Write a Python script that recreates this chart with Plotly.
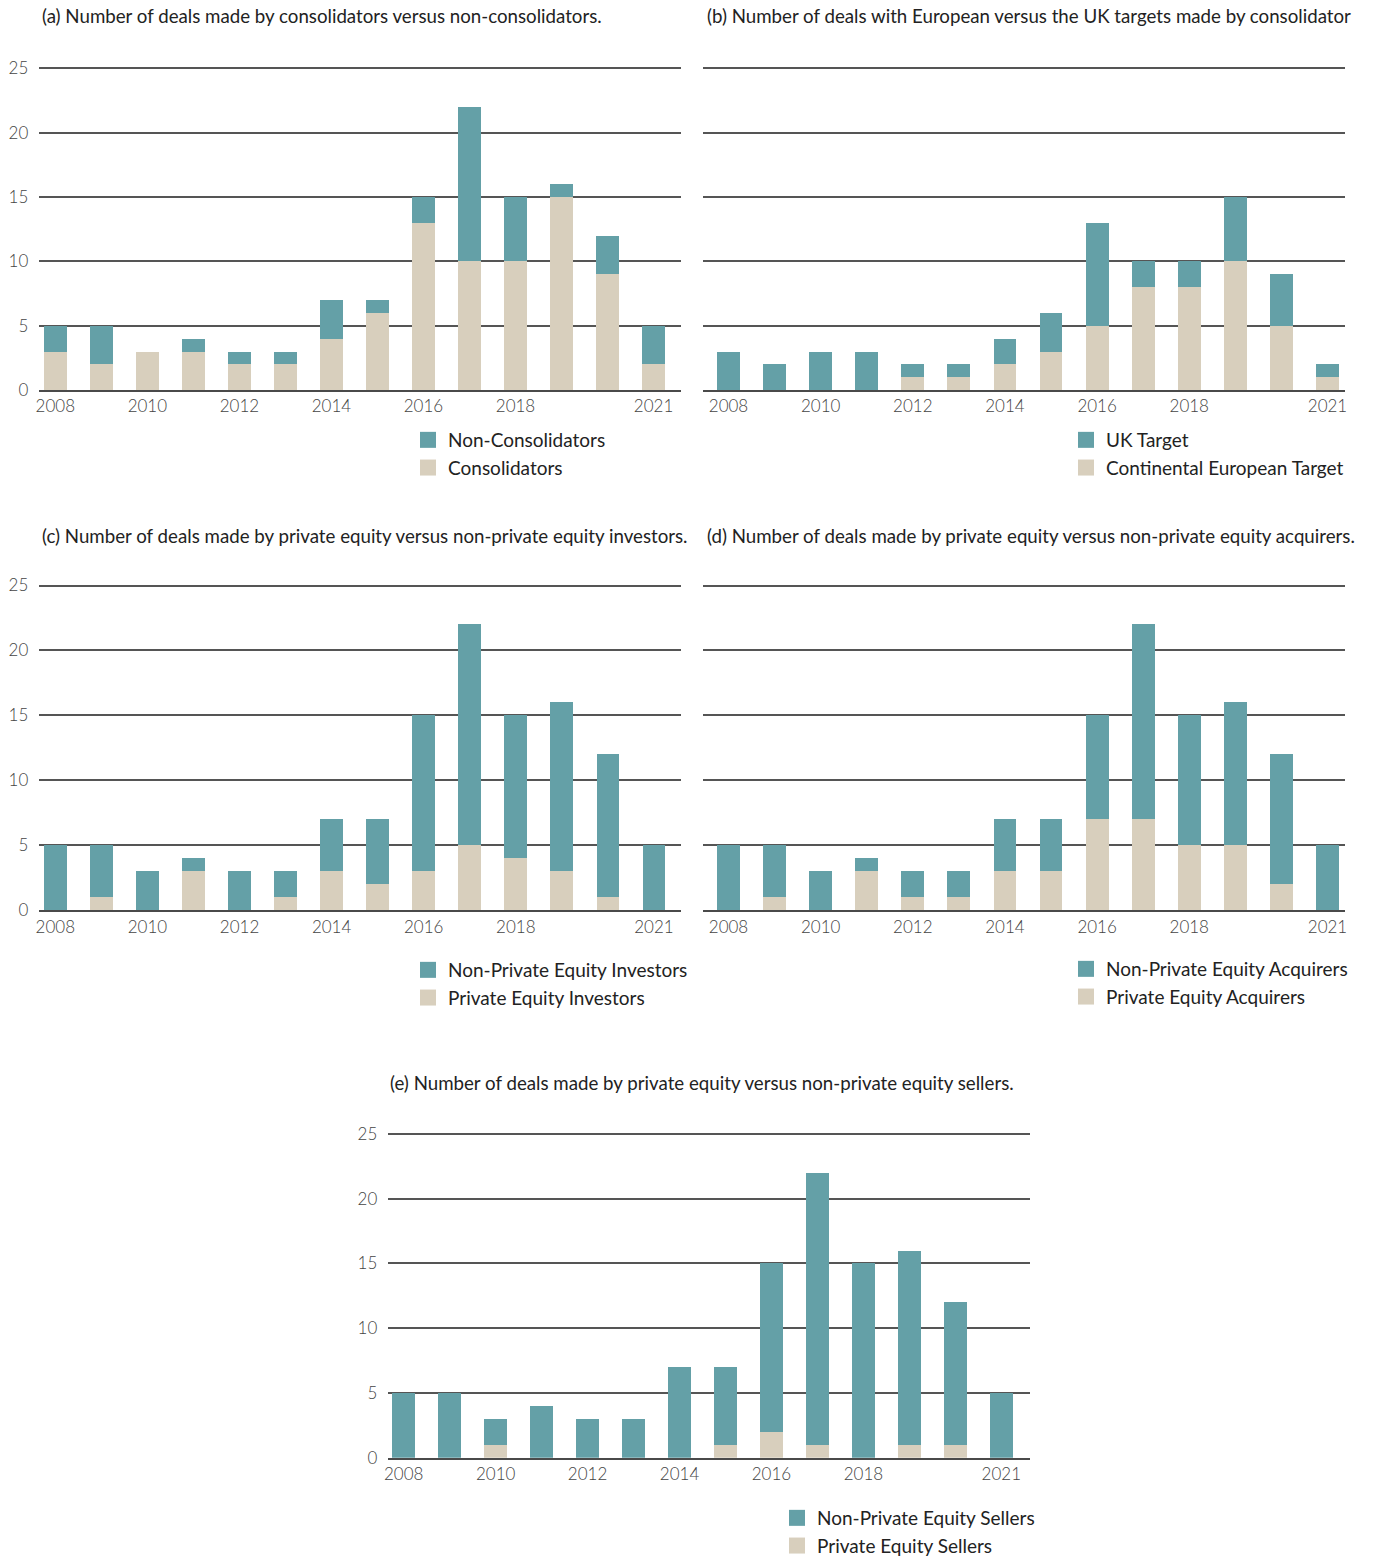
import plotly.graph_objects as go

W, H = 1375, 1557

years = list(range(2008, 2022))
tick_years = [2008, 2010, 2012, 2014, 2016, 2018, 2021]
y_ticks = [0, 5, 10, 15, 20, 25]

# (a)
a_non_consolidators = [2, 3, 0, 1, 1, 1, 3, 1, 2, 12, 5, 1, 3, 3]
a_consolidators = [3, 2, 3, 3, 2, 2, 4, 6, 13, 10, 10, 15, 9, 2]
# (b)
b_uk_target = [3, 2, 3, 3, 1, 1, 2, 3, 8, 2, 2, 5, 4, 1]
b_continental_target = [0, 0, 0, 0, 1, 1, 2, 3, 5, 8, 8, 10, 5, 1]
# (c)
c_non_pe_investors = [5, 4, 3, 1, 3, 2, 4, 5, 12, 17, 11, 13, 11, 5]
c_pe_investors = [0, 1, 0, 3, 0, 1, 3, 2, 3, 5, 4, 3, 1, 0]
# (d)
d_non_pe_acquirers = [5, 4, 3, 1, 2, 2, 4, 4, 8, 15, 10, 11, 10, 5]
d_pe_acquirers = [0, 1, 0, 3, 1, 1, 3, 3, 7, 7, 5, 5, 2, 0]
# (e)
e_non_pe_sellers = [5, 5, 2, 4, 3, 3, 7, 6, 13, 21, 15, 15, 11, 5]
e_pe_sellers = [0, 0, 1, 0, 0, 0, 0, 1, 2, 1, 0, 1, 1, 0]

titles = [
    "(a) Number of deals made by consolidators versus non-consolidators.",
    "(b) Number of deals with European versus the UK targets made by consolidator",
    "(c) Number of deals made by private equity versus non-private equity investors.",
    "(d) Number of deals made by private equity versus non-private equity acquirers.",
    "(e) Number of deals made by private equity versus non-private equity sellers.",
]
legend_names = [
    ("Non-Consolidators", "Consolidators"),
    ("UK Target", "Continental European Target"),
    ("Non-Private Equity Investors", "Private Equity Investors"),
    ("Non-Private Equity Acquirers", "Private Equity Acquirers"),
    ("Non-Private Equity Sellers", "Private Equity Sellers"),
]
series = [
    (a_non_consolidators, a_consolidators),
    (b_uk_target, b_continental_target),
    (c_non_pe_investors, c_pe_investors),
    (d_non_pe_acquirers, d_pe_acquirers),
    (e_non_pe_sellers, e_pe_sellers),
]

TEAL = "#64A0A7"
BEIGE = "#D8CFBD"
FONT = "Lato"
YMAX = 25.15  # a hair above 25 so the top gridline is drawn

panels = [
    dict(x0=39.3, x1=680.7, yt=68.2, yb=390.2, xr=[2007.652, 2021.59], ylab=True,
         tx=40, ty=16, lx=424, ly=441),
    dict(x0=703.3, x1=1345.0, yt=68.2, yb=390.2, xr=[2007.453, 2021.38], ylab=False,
         tx=705, ty=16, lx=1082, ly=441),
    dict(x0=39.3, x1=681.0, yt=585.5, yb=910.3, xr=[2007.652, 2021.587], ylab=True,
         tx=40, ty=536, lx=424, ly=971),
    dict(x0=703.3, x1=1345.0, yt=585.5, yb=910.3, xr=[2007.453, 2021.38], ylab=False,
         tx=705, ty=536, lx=1082, ly=970),
    dict(x0=388.3, x1=1030.0, yt=1134.0, yb=1457.7, xr=[2007.665, 2021.624], ylab=True,
         tx=388, ty=1083, lx=793, ly=1519),
]


def px(x):
    return x / W


def py(y):
    return 1 - y / H


fig = go.Figure()
layout = dict(
    width=W, height=H,
    margin=dict(l=0, r=0, t=0, b=0, autoexpand=False),
    paper_bgcolor="white", plot_bgcolor="white",
    barmode="stack", bargap=0.505,
    font=dict(family=FONT, color="#333"),
    showlegend=True,
    annotations=[],
)

for i, p in enumerate(panels):
    k = "" if i == 0 else str(i + 1)
    xa, ya = "x" + k, "y" + k
    top_vals, bottom_vals = series[i]
    top_name, bottom_name = legend_names[i]
    leg = "legend" if i == 0 else "legend" + k
    unit = (p["yb"] - p["yt"]) / 25.0
    ytop_px = p["yt"] - (YMAX - 25) * unit

    fig.add_trace(go.Bar(x=years, y=bottom_vals, marker=dict(color=BEIGE, line=dict(width=0)),
                         xaxis=xa, yaxis=ya, showlegend=False, name=bottom_name))
    fig.add_trace(go.Bar(x=years, y=top_vals, marker=dict(color=TEAL, line=dict(width=0)),
                         xaxis=xa, yaxis=ya, showlegend=False, name=top_name))
    fig.add_trace(go.Scatter(x=[None], y=[None], mode="markers", name=top_name,
                             marker=dict(symbol="square", size=16, color=TEAL),
                             xaxis=xa, yaxis=ya, legend=leg, legendrank=1))
    fig.add_trace(go.Scatter(x=[None], y=[None], mode="markers", name=bottom_name,
                             marker=dict(symbol="square", size=16, color=BEIGE),
                             xaxis=xa, yaxis=ya, legend=leg, legendrank=2))

    layout["xaxis" + k] = dict(
        domain=[px(p["x0"]), px(p["x1"])], range=p["xr"], anchor=ya,
        tickmode="array", tickvals=tick_years, ticktext=[str(t) for t in tick_years],
        showgrid=False, zeroline=False, showline=True, linecolor="#4a4a4a", linewidth=1.6,
        ticks="", tickfont=dict(family=FONT, size=17, color="#444", weight=300),
        ticklabelstandoff=0, fixedrange=True,
    )
    layout["yaxis" + k] = dict(
        domain=[py(p["yb"]), py(ytop_px)], range=[0, YMAX], anchor=xa,
        tickmode="array", tickvals=y_ticks,
        showgrid=True, gridcolor="#555555", gridwidth=1.5,
        zeroline=False, showline=False, ticks="",
        showticklabels=p["ylab"],
        tickfont=dict(family=FONT, size=17, color="#444", weight=300),
        ticklabelstandoff=10, fixedrange=True,
    )
    layout[leg] = dict(
        x=px(p["lx"] - 16), y=py(p["ly"] - 20), xanchor="left", yanchor="top",
        bgcolor="rgba(0,0,0,0)", borderwidth=0,
        font=dict(family=FONT, size=19, color="#222"),
        traceorder="normal", tracegroupgap=0, itemwidth=30,
    )
    layout["annotations"].append(dict(
        text=titles[i], x=px(p["tx"]), y=py(p["ty"]), xref="paper", yref="paper",
        xanchor="left", yanchor="middle", showarrow=False,
        font=dict(family=FONT, size=18.7, color="#222"),
    ))

fig.update_layout(**layout)
fig.write_html("out.html")
